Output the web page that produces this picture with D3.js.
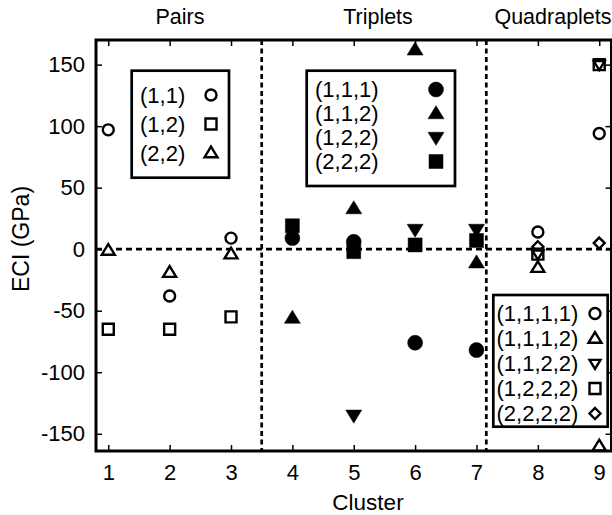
<!DOCTYPE html>
<html>
<head>
<meta charset="utf-8">
<script src="https://cdn.jsdelivr.net/npm/d3@7"></script>
<style>
  html, body { margin: 0; padding: 0; background: #fff; }
  svg { display: block; }
  text { font-family: "Liberation Sans", Arial, Helvetica, sans-serif; fill: #000; }
</style>
</head>
<body>
<svg id="chart" width="612" height="515"></svg>
<script>
// ---------- data ----------
const xTicks = [1, 2, 3, 4, 5, 6, 7, 8, 9];
const yTicks = [150, 100, 50, 0, -50, -100, -150];
const groupLabels = ["Pairs", "Triplets", "Quadraplets"];
const groupDividers = [3.5, 7.16];

// Pairs
const pair11 = [[1, 97], [2, -38], [3, 9]];
const pair12 = [[1, -65], [2, -65], [3, -55]];
const pair22 = [[1, -1], [2, -19], [3, -4]];

// Triplets
const trip111 = [[4, 9], [5, 6], [6, -76], [7, -82]];
const trip112 = [[4, -56], [5, 33], [6, 162], [7, -11]];
const trip122 = [[5, -135], [6, 16], [7, 16]];
const trip222 = [[4, 19], [5, -2], [6, 3.5], [7, 7]];

// Quadraplets
const quad1111 = [[8, 14], [9, 94]];
const quad1112 = [[8, -15], [9, -160]];
const quad1122 = [[8, -4], [9, 150]];
const quad1222 = [[8, -4], [9, 150]];
const quad2222 = [[8, 2], [9, 5]];

const pairLegend = ["(1,1)", "(1,2)", "(2,2)"];
const tripLegend = ["(1,1,1)", "(1,1,2)", "(1,2,2)", "(2,2,2)"];
const quadLegend = ["(1,1,1,1)", "(1,1,1,2)", "(1,1,2,2)", "(1,2,2,2)", "(2,2,2,2)"];

// ---------- layout ----------
const svg = d3.select("#chart");
const pL = 96, pR = 611.5, pT = 40, pB = 451;
const x = d3.scaleLinear().domain([0.8, 9.2]).range([pL, pR]);
const y = d3.scaleLinear().domain([-164, 170]).range([pB, pT]);
const FS = 22;

// ---------- marker shapes ----------
function shapePath(type, s) {
  const p = d3.path();
  if (type === "circle") {
    p.arc(0, 0, s / 2, 0, 2 * Math.PI);
  } else if (type === "square") {
    p.rect(-s / 2, -s / 2, s, s);
  } else if (type === "up") {
    const h = s * 0.82;
    p.moveTo(0, -h * 0.6); p.lineTo(s / 2, h * 0.4); p.lineTo(-s / 2, h * 0.4); p.closePath();
  } else if (type === "down") {
    const h = s * 0.82;
    p.moveTo(0, h * 0.6); p.lineTo(s / 2, -h * 0.4); p.lineTo(-s / 2, -h * 0.4); p.closePath();
  } else if (type === "diamond") {
    const r = s / 2;
    p.moveTo(0, -r); p.lineTo(r, 0); p.lineTo(0, r); p.lineTo(-r, 0); p.closePath();
  }
  return p.toString();
}
const OPEN = { fill: "#fff", stroke: "#000", sw: 2.4 };
const FILLED = { fill: "#000", stroke: "#000", sw: 0.5 };
function markerAttrs(sel, type, s, style) {
  sel.attr("d", shapePath(type, s))
     .attr("fill", style.fill)
     .attr("stroke", style.stroke)
     .attr("stroke-width", style.sw)
     .attr("stroke-linejoin", "miter");
}

// ---------- clip ----------
svg.append("defs").append("clipPath").attr("id", "plotclip")
  .append("rect").attr("x", pL).attr("y", pT).attr("width", pR - pL).attr("height", pB - pT);

// ---------- axes ----------
const axL = svg.append("g").attr("transform", `translate(${pL},0)`)
  .call(d3.axisLeft(y).tickValues(yTicks).tickSizeInner(-6).tickSizeOuter(0).tickPadding(11).tickFormat(d3.format("d")));
const axR = svg.append("g").attr("transform", `translate(${pR},0)`)
  .call(d3.axisRight(y).tickValues(yTicks).tickSizeInner(-6).tickSizeOuter(0).tickFormat(""));
const axB = svg.append("g").attr("transform", `translate(0,${pB})`)
  .call(d3.axisBottom(x).tickValues(xTicks).tickSizeInner(-6).tickSizeOuter(0).tickPadding(13).tickFormat(d3.format("d")));
const axT = svg.append("g").attr("transform", `translate(0,${pT})`)
  .call(d3.axisTop(x).tickValues(xTicks).tickSizeInner(-6).tickSizeOuter(0).tickFormat(""));
[axL, axR, axB, axT].forEach(g => {
  g.select(".domain").remove();
  g.selectAll(".tick line").attr("stroke", "#000").attr("stroke-width", 1.5);
  g.selectAll(".tick text").attr("font-size", FS).attr("font-family", "Liberation Sans, Arial, sans-serif").attr("fill", "#000");
});
axL.selectAll(".tick text").text(d => d < 0 ? "-" + Math.abs(d) : d);

// ---------- reference lines ----------
const plot = svg.append("g").attr("clip-path", "url(#plotclip)");
plot.append("line")
  .attr("x1", pL).attr("x2", pR).attr("y1", y(0)).attr("y2", y(0))
  .attr("stroke", "#000").attr("stroke-width", 2.7).attr("stroke-dasharray", "6,4");
plot.selectAll("line.div").data(groupDividers).enter().append("line")
  .attr("class", "div")
  .attr("x1", d => x(d)).attr("x2", d => x(d)).attr("y1", pT).attr("y2", pB)
  .attr("stroke", "#000").attr("stroke-width", 2.7).attr("stroke-dasharray", "5,3.5");

// ---------- data markers ----------
function drawSeries(data, type, s, style) {
  plot.selectAll(null).data(data).enter().append("path")
    .attr("transform", d => `translate(${x(d[0])},${y(d[1])})`)
    .call(sel => markerAttrs(sel, type, s, style));
}
// Pairs
drawSeries(pair11, "circle", 11, OPEN);
drawSeries(pair12, "square", 11, OPEN);
drawSeries(pair22, "up", 13, OPEN);
// Triplets
drawSeries(trip111, "circle", 15, FILLED);
drawSeries(trip112, "up", 16, FILLED);
drawSeries(trip122, "down", 16, FILLED);
drawSeries(trip222, "square", 14, FILLED);
// Quadraplets
drawSeries(quad1111, "circle", 11, OPEN);
drawSeries(quad2222, "diamond", 11, OPEN);
drawSeries(quad1112, "up", 13, OPEN);
drawSeries(quad1222, "square", 11, OPEN);
drawSeries(quad1122, "down", 11, OPEN);

// ---------- frame ----------
svg.append("rect").attr("x", pL).attr("y", pT).attr("width", pR - pL).attr("height", pB - pT)
  .attr("fill", "none").attr("stroke", "#000").attr("stroke-width", 3);

// ---------- legends ----------
function legend(box, labels, types, sizes, style, textX, markX, row0, dy) {
  const g = svg.append("g");
  g.append("rect").attr("x", box[0]).attr("y", box[1]).attr("width", box[2] - box[0]).attr("height", box[3] - box[1])
    .attr("fill", "#fff").attr("stroke", "#000").attr("stroke-width", 2.7);
  labels.forEach((lab, i) => {
    const cy = row0 + i * dy;
    g.append("text").attr("x", textX).attr("y", cy + 7.8).attr("font-size", FS).text(lab);
    g.append("path").attr("transform", `translate(${markX},${cy})`)
      .call(sel => markerAttrs(sel, types[i], sizes[i], style));
  });
}
legend([131.7, 70.7, 229, 177.7], pairLegend, ["circle", "square", "up"], [11, 11, 13], OPEN, 140, 211, 95, 29);
legend([306.7, 70.7, 455, 186], tripLegend, ["circle", "up", "down", "square"], [15, 16, 16, 14], FILLED, 315, 436, 89.5, 24);
legend([493.3, 295, 607.7, 426.7], quadLegend, ["circle", "up", "down", "square", "diamond"], [11, 13, 11, 11, 11], OPEN, 496.5, 595, 313.5, 25);

// ---------- titles ----------
const groupX = [180, 378, 553];
svg.selectAll("text.grp").data(groupLabels).enter().append("text")
  .attr("class", "grp").attr("x", (d, i) => groupX[i]).attr("y", 23.5)
  .attr("text-anchor", "middle").attr("font-size", 21.5).text(d => d);

svg.append("text").attr("x", 368).attr("y", 510).attr("text-anchor", "middle").attr("font-size", 22.5).text("Cluster");
svg.append("text").attr("transform", `translate(28.5,239) rotate(-90)`).attr("text-anchor", "middle")
  .attr("font-size", 23).text("ECI (GPa)");
</script>
</body>
</html>
